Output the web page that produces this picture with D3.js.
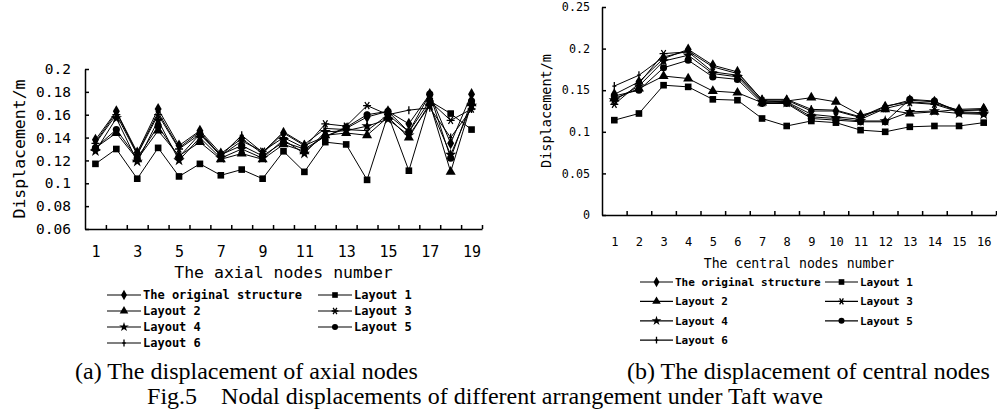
<!DOCTYPE html>
<html><head><meta charset="utf-8">
<script src="https://cdn.jsdelivr.net/npm/d3@7"></script>
<style>body{margin:0;background:#fff}svg{display:block}</style>
</head><body><svg id="c" width="997" height="413"></svg>
<script>
const seriesNames = ["The original structure","Layout 1","Layout 2","Layout 3","Layout 4","Layout 5","Layout 6"];
const markerTypes = ["diamond","square","triangle","asterisk","star","circle","tick"];

const axialNodes = [1,2,3,4,5,6,7,8,9,10,11,12,13,14,15,16,17,18,19];
const axialTickLabels = [1,3,5,7,9,11,13,15,17,19];
const axialYTicks = [0.06,0.08,0.1,0.12,0.14,0.16,0.18,0.2];
const axialOriginal = [0.138,0.163,0.127,0.165,0.133,0.146,0.126,0.139,0.126,0.144,0.133,0.141,0.148,0.158,0.163,0.152,0.178,0.135,0.178];
const axialLayout1  = [0.117,0.130,0.104,0.131,0.106,0.117,0.107,0.112,0.104,0.128,0.110,0.136,0.134,0.103,0.160,0.111,0.172,0.161,0.147];
const axialLayout2  = [0.131,0.144,0.121,0.146,0.124,0.136,0.121,0.126,0.121,0.134,0.128,0.142,0.144,0.142,0.158,0.140,0.170,0.110,0.170];
const axialLayout3  = [0.135,0.160,0.125,0.160,0.130,0.143,0.124,0.137,0.128,0.140,0.131,0.152,0.150,0.168,0.160,0.145,0.172,0.155,0.165];
const axialLayout4  = [0.128,0.157,0.119,0.155,0.120,0.140,0.122,0.130,0.122,0.138,0.126,0.145,0.146,0.150,0.156,0.142,0.168,0.125,0.168];
const axialLayout5  = [0.131,0.147,0.122,0.150,0.123,0.143,0.125,0.133,0.124,0.136,0.130,0.141,0.149,0.160,0.163,0.145,0.178,0.122,0.172];
const axialLayout6  = [0.136,0.162,0.126,0.162,0.131,0.145,0.124,0.142,0.127,0.145,0.134,0.148,0.147,0.146,0.160,0.164,0.166,0.140,0.165];

const centralNodes = [1,2,3,4,5,6,7,8,9,10,11,12,13,14,15,16];
const centralYTicks = [0,0.05,0.1,0.15,0.2,0.25];
const centralOriginal = [0.145,0.160,0.188,0.199,0.180,0.172,0.138,0.138,0.125,0.125,0.117,0.130,0.138,0.136,0.125,0.127];
const centralLayout1  = [0.114,0.122,0.156,0.154,0.139,0.138,0.116,0.107,0.113,0.111,0.102,0.100,0.106,0.107,0.107,0.111];
const centralLayout2  = [0.140,0.152,0.167,0.164,0.149,0.147,0.135,0.137,0.141,0.136,0.120,0.127,0.122,0.124,0.127,0.128];
const centralLayout3  = [0.133,0.158,0.194,0.196,0.172,0.168,0.137,0.136,0.121,0.118,0.115,0.128,0.135,0.133,0.124,0.123];
const centralLayout4  = [0.138,0.155,0.185,0.192,0.170,0.166,0.136,0.135,0.118,0.116,0.113,0.113,0.124,0.125,0.122,0.121];
const centralLayout5  = [0.143,0.150,0.177,0.186,0.166,0.163,0.134,0.134,0.116,0.114,0.112,0.112,0.139,0.137,0.123,0.122];
const centralLayout6  = [0.155,0.168,0.190,0.197,0.178,0.170,0.139,0.139,0.127,0.126,0.118,0.131,0.136,0.134,0.126,0.126];

const svg = d3.select("#c");
const MONO = "'DejaVu Sans Mono', 'Liberation Mono', monospace";
const SERIF = "'Liberation Serif', 'Times New Roman', serif";

function drawMarker(g, type, x, y, s) {
  const k = s || 1;
  if (type === "diamond") g.append("path").attr("d", d3.symbol(d3.symbolDiamond, 42*k*k)()).attr("transform",`translate(${x},${y})`).attr("fill","#000");
  else if (type === "square") g.append("path").attr("d", d3.symbol(d3.symbolSquare, 44*k*k)()).attr("transform",`translate(${x},${y})`).attr("fill","#000");
  else if (type === "triangle") g.append("path").attr("d", d3.symbol(d3.symbolTriangle, 44*k*k)()).attr("transform",`translate(${x},${y})`).attr("fill","#000");
  else if (type === "circle") g.append("path").attr("d", d3.symbol(d3.symbolCircle, 40*k*k)()).attr("transform",`translate(${x},${y})`).attr("fill","#000");
  else if (type === "star") g.append("path").attr("d", d3.symbol(d3.symbolStar, 40*k*k)()).attr("transform",`translate(${x},${y})`).attr("fill","#000");
  else if (type === "asterisk") g.append("path").attr("d", `M${-4*k},0L${4*k},0M${-2.2*k},${-3.6*k}L${2.2*k},${3.6*k}M${2.2*k},${-3.6*k}L${-2.2*k},${3.6*k}`).attr("transform",`translate(${x},${y})`).attr("stroke","#000").attr("stroke-width",1.3).attr("fill","none");
  else if (type === "tick") g.append("path").attr("d", `M0,${-4*k}L0,${4*k}M${-2*k},0L${2*k},0`).attr("transform",`translate(${x},${y})`).attr("stroke","#000").attr("stroke-width",1.3).attr("fill","none");
}

function panel(cfg) {
  const g = svg.append("g");
  const x = d3.scaleLinear().domain(cfg.xDomain).range(cfg.xRange);
  const y = d3.scaleLinear().domain(cfg.yDomain).range(cfg.yRange);

  const line = d3.line().x((d,i)=>x(cfg.nodes[i])).y(d=>y(d));
  cfg.series.forEach((s) => {
    g.append("path").attr("d", line(s)).attr("fill","none").attr("stroke","#000").attr("stroke-width",1);
  });
  cfg.series.forEach((s, si) => {
    s.forEach((v,i)=> drawMarker(g, markerTypes[si], x(cfg.nodes[i]), y(v), cfg.mk));
  });

  const ya = g.append("g").attr("transform",`translate(${cfg.xRange[0]},0)`)
    .call(d3.axisLeft(y).tickValues(cfg.yTicks).tickSizeInner(-4).tickSizeOuter(0).tickPadding(cfg.yPad)
      .tickFormat(d=>String(+d.toFixed(2))));
  ya.selectAll("text").attr("font-family",MONO).attr("font-size",cfg.yFont).attr("fill","#000");
  ya.selectAll("line,path").attr("stroke","#000").attr("stroke-width",1.5);

  const bounds = d3.range(cfg.xDomain[0]+1, cfg.xDomain[1]+0.01, 1);
  const xa = g.append("g").attr("transform",`translate(0,${cfg.yRange[0]})`)
    .call(d3.axisBottom(x).tickValues(bounds).tickSizeInner(-4).tickSizeOuter(0).tickFormat(""));
  xa.selectAll("line,path").attr("stroke","#000").attr("stroke-width",1.5);
  const xl = g.append("g").attr("transform",`translate(0,${cfg.yRange[0]})`)
    .call(d3.axisBottom(x).tickValues(cfg.xLabels).tickSize(0).tickPadding(cfg.xPad).tickFormat(d3.format("d")));
  xl.select(".domain").remove();
  xl.selectAll("text").attr("font-family",MONO).attr("font-size",cfg.xFont).attr("fill","#000");

  g.append("text").attr("x",(cfg.xRange[0]+cfg.xRange[1])/2).attr("y",cfg.xTitleY)
    .attr("text-anchor","middle").attr("font-family",MONO).attr("font-size",cfg.xTitleFont).text(cfg.xTitle);
  g.append("text").attr("transform",`translate(${cfg.yTitleX},${(cfg.yRange[0]+cfg.yRange[1])/2}) rotate(-90)`)
    .attr("text-anchor","middle").attr("dy","0.35em").attr("font-family",MONO).attr("font-size",cfg.yTitleFont).text("Displacement/m");

  const order = [[0,1],[2,3],[4,5],[6]];
  order.forEach((row, ri) => {
    row.forEach((si, ci) => {
      const lx0 = cfg.leg.cols[ci], lx1 = lx0 + cfg.leg.len;
      const ly = cfg.leg.y0 + ri*cfg.leg.dy;
      g.append("line").attr("x1",lx0).attr("x2",lx1).attr("y1",ly).attr("y2",ly).attr("stroke","#000").attr("stroke-width",1.2);
      drawMarker(g, markerTypes[si], (lx0+lx1)/2, ly, 0.85);
      g.append("text").attr("x",lx1+2).attr("y",ly).attr("dy","0.35em")
        .attr("font-family",MONO).attr("font-size",cfg.leg.font).attr("font-weight","bold").text(seriesNames[si]);
    });
  });
}

panel({
  nodes: axialNodes, xLabels: axialTickLabels, yTicks: axialYTicks,
  series: [axialOriginal, axialLayout1, axialLayout2, axialLayout3, axialLayout4, axialLayout5, axialLayout6],
  xDomain:[0.5,19.5], xRange:[85,482], yDomain:[0.06,0.2], yRange:[229,69],
  yPad:14, yFont:14.5, xPad:17, xFont:15, mk:1,
  xTitle:"The axial nodes number", xTitleY:278, xTitleFont:16.5,
  yTitleX:19, yTitleFont:16.5,
  leg:{cols:[107,318], len:34, y0:295, dy:16, font:12}
});

panel({
  nodes: centralNodes, xLabels: centralNodes, yTicks: centralYTicks,
  series: [centralOriginal, centralLayout1, centralLayout2, centralLayout3, centralLayout4, centralLayout5, centralLayout6],
  xDomain:[0.5,16.5], xRange:[602,996], yDomain:[0,0.25], yRange:[215,7],
  yPad:12, yFont:11.7, xPad:22, xFont:12, mk:1,
  xTitle:"The central nodes number", xTitleY:268, xTitleFont:13.2,
  yTitleX:546, yTitleFont:13.5,
  leg:{cols:[640,825], len:33, y0:282, dy:19.4, font:11}
});

svg.append("text").attr("x",75).attr("y",379).attr("font-family",SERIF).attr("font-size",24).text("(a) The displacement of axial nodes");
svg.append("text").attr("x",627).attr("y",379).attr("font-family",SERIF).attr("font-size",24).text("(b) The displacement of central nodes");
svg.append("text").attr("x",485).attr("y",404).attr("text-anchor","middle").attr("font-family",SERIF).attr("font-size",24)
  .style("white-space","pre").text("Fig.5    Nodal displacements of different arrangement under Taft wave");
</script>
</body></html>
